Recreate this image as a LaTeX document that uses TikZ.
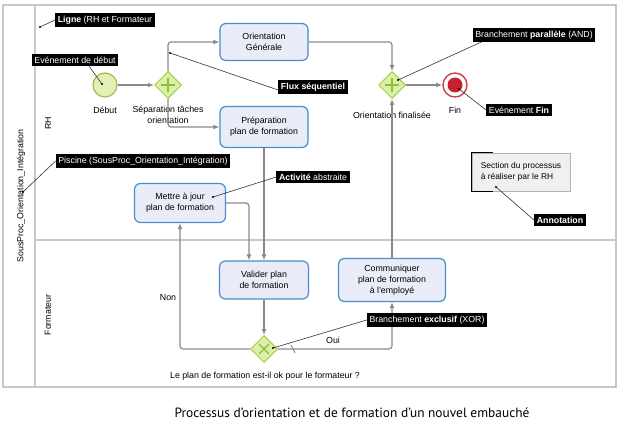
\documentclass[tikz,border=0pt]{standalone}
\usepackage{fontspec}
\setmainfont{Liberation Sans}
\newfontfamily\capfont{PT Sans}
\usetikzlibrary{shapes.geometric,arrows.meta,calc}
\definecolor{taskfill}{HTML}{EAEDF8}
\definecolor{taskline}{HTML}{4A8CCF}
\definecolor{gwfill}{HTML}{DCEFA8}
\definecolor{gwline}{HTML}{A3CF4A}
\definecolor{gwmark}{HTML}{8DBE3C}
\definecolor{evfill}{HTML}{E3EFB5}
\definecolor{evline}{HTML}{9DBF4E}
\definecolor{endred}{HTML}{C8202C}
\definecolor{flowgray}{HTML}{8A8A8A}
\definecolor{poolgray}{HTML}{C8C8C8}
\tikzset{
  task/.style={draw=taskline, fill=taskfill, line width=1.2pt, rounded corners=6pt,
    align=center, font=\fontsize{8.8}{11}\selectfont, inner sep=0pt},
  gateway/.style={diamond, aspect=1, draw=gwline, fill=gwfill, line width=1pt,
    minimum size=27pt, inner sep=0pt},
  gwsign/.style={draw=gwmark, line width=1.4pt},
  flow/.style={draw=flowgray, line width=1.2pt, rounded corners=3pt,
    -{Latex[length=6pt,width=5pt]}},
  txt/.style={font=\fontsize{8.8}{11}\selectfont, align=center, inner sep=0pt},
  callout/.style={fill=black, text=white, font=\fontsize{8.8}{11}\selectfont,
    inner sep=2.6pt},
  pointer/.style={draw=black!80, line width=0.6pt},
  dot/.style={fill=black}
}
\begin{document}
\begin{tikzpicture}[x=1pt,y=-1pt]
\useasboundingbox (0,0) rectangle (620,425);
\draw[poolgray, line width=1.6pt] (3,5) rectangle (616,387);
\draw[poolgray, line width=1.6pt] (35,5) -- (35,387);
\draw[poolgray, line width=1.2pt] (35,240) -- (616,240);
\node[txt, rotate=90] (pool) at (21,196) {SousProc\_Orientation\_Intégration};
\node[txt, rotate=90] (laneRH) at (48,123) {RH};
\node[txt, rotate=90] (laneForm) at (48,315) {Formateur};

\node[circle, draw=evline, fill=evfill, line width=1.2pt, minimum size=24pt, inner sep=0pt] (debut) at (105,85) {};
\node[txt] (lDebut) at (105,110) {Début};
\node[gateway] (split) at (168,85) {};
\draw[gwsign] (split.center) +(-7,0) -- +(7,0) (split.center) +(0,-7) -- +(0,7);
\node[txt] (lSplit) at (168,115) {Séparation tâches\\orientation};
\node[task, minimum width=88pt, minimum height=37pt] (gen) at (264,42) {Orientation\\Générale};
\node[task, minimum width=88pt, minimum height=41pt] (prep) at (264,127) {Préparation\\plan de formation};
\node[gateway] (join) at (392,85) {};
\draw[gwsign] (join.center) +(-7,0) -- +(7,0) (join.center) +(0,-7) -- +(0,7);
\node[txt] (lJoin) at (392,115) {Orientation finalisée};
\node[circle, draw=endred!85, line width=1.4pt, minimum size=24pt, inner sep=0pt] (fin) at (455,85) {};
\fill[endred] (fin.center) circle (7.5);
\node[txt] (lFin) at (455,110) {Fin};
\node[task, minimum width=91pt, minimum height=39pt] (maj) at (180,203) {Mettre à jour\\plan de formation};
\node[task, minimum width=89pt, minimum height=38pt] (valid) at (264,280) {Valider plan\\de formation};
\node[task, minimum width=107pt, minimum height=43pt] (comm) at (392,280) {Communiquer\\plan de formation\\à l'employé};
\node[gateway] (xor) at (264,349) {};
\draw[gwsign] (xor.center) +(-5,-5) -- +(5,5) (xor.center) +(-5,5) -- +(5,-5);
\node[txt] (lXor) at (265,376) {Le plan de formation est-il ok pour le formateur ?};

\draw[flow] (debut) -- (split);
\draw[flow] (split.north) |- (gen.west);
\draw[flow] (split.south) |- (prep.west);
\draw[flow] (gen.east) -| (join.north);
\draw[flow] (comm.north) -- (join.south);
\draw[flow] (join) -- (fin);
\draw[flow] (prep.south) -- (valid.north);
\draw[flow] (maj.east) -| ([xshift=-15pt]valid.north);
\draw[flow] (valid.south) -- (xor.north);
\draw[flow] (xor.west) -| (maj.south);
\draw[flow] (xor.east) -| (comm.south);
\coordinate (dflt) at ([xshift=15pt]xor.east);
\draw[flowgray, line width=1pt] (dflt) +(-2,-4) -- +(2,4);
\node[txt] (lNon) at (168,298) {Non};
\node[txt] (lOui) at (333,340) {Oui};

\node[fill=black!6, draw=black!30, line width=1pt, minimum width=98pt, minimum height=38pt,
  align=left, font=\fontsize{8.4}{11}\selectfont, inner sep=0pt] (annot) at (521,172) {Section du processus\\à réaliser par le RH};
\draw[black, line width=1.2pt] ([xshift=21pt]annot.north west) -- (annot.north west) -- (annot.south west) -- ++(21,0);

\node[callout] (cLigne) at (105,20) {\textbf{Ligne} (RH et Formateur};
\node[callout] (cDebut) at (75,60) {Evénement de début};
\node[callout] (cFlux) at (313,87) {\textbf{Flux séquentiel}};
\node[callout] (cAnd) at (534,35) {Branchement \textbf{parallèle} (AND)};
\node[callout] (cFin) at (519,110) {Evénement \textbf{Fin}};
\node[callout] (cPool) at (143,161) {Piscine (SousProc\_Orientation\_Intégration)};
\node[callout] (cAct) at (313,177) {\textbf{Activité} abstraite};
\node[callout] (cAnnot) at (560,220) {\textbf{Annotation}};
\node[callout] (cXor) at (427,320) {Branchement \textbf{exclusif} (XOR)};

\coordinate (pLigne) at (40,27);
\coordinate (pDebut) at (102,84);
\coordinate (pFlux) at (170,53);
\coordinate (pAnd) at (398,80);
\coordinate (pFin) at (459,89);
\coordinate (pPool) at (23,192);
\coordinate (pAct) at (213,197);
\coordinate (pAnnot) at (496,187);
\coordinate (pXor) at (273,348);
\draw[pointer] (cLigne.west) -- (pLigne);
\draw[pointer] ([xshift=14pt]cDebut.south) -- (pDebut);
\draw[pointer] ([yshift=-3pt]cFlux.west) -- (pFlux);
\draw[pointer] ([xshift=9pt]cAnd.south west) -- (pAnd);
\draw[pointer] (cFin.west) -- (pFin);
\draw[pointer] (cPool.west) -- (pPool);
\draw[pointer] (cAct.west) -- (pAct);
\draw[pointer] (cAnnot.west) -- (pAnnot);
\draw[pointer] (cXor.west) -- (pXor);
\foreach \p in {pLigne,pDebut,pFlux,pAnd,pFin,pPool,pAct,pAnnot,pXor}
  \fill[dot] (\p) circle (1.2pt);

\node[font=\capfont\fontsize{13.4}{15}\selectfont, inner sep=0pt] (caption) at (352,413) {Processus d’orientation et de formation d’un nouvel embauché};
\end{tikzpicture}
\end{document}
